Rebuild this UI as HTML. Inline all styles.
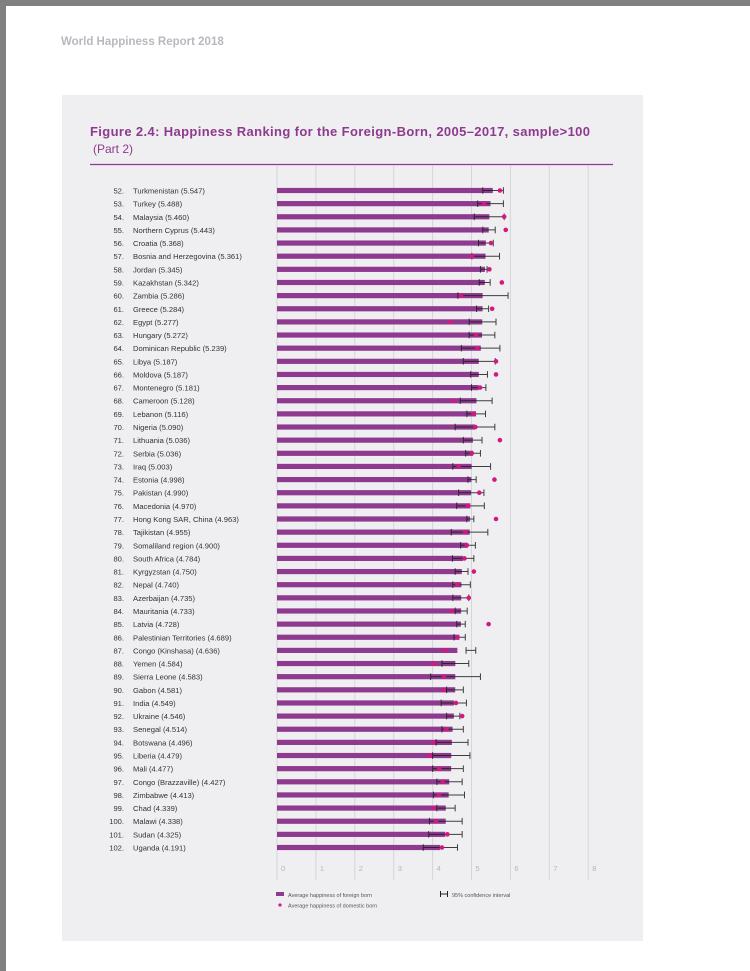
<!DOCTYPE html>
<html><head><meta charset="utf-8"><style>
body{margin:0;width:750px;height:971px;overflow:hidden;background:#fff;font-family:"Liberation Sans",sans-serif;}
svg{display:block}
</style></head><body>
<svg id="chart" width="750" height="971" viewBox="0 0 750 971" xmlns="http://www.w3.org/2000/svg" font-family="Liberation Sans, sans-serif">
<rect x="0" y="0" width="750" height="6" fill="#808080"/>
<rect x="0" y="0" width="6" height="971" fill="#808080"/>
<text x="61" y="45" font-size="11.5" font-weight="bold" fill="#b8b8be">World Happiness Report 2018</text>
<rect x="62" y="95" width="581" height="846" fill="#efeff2"/>
<text x="90" y="136" font-size="13" font-weight="bold" fill="#8e3a8e" textLength="500">Figure 2.4: Happiness Ranking for the Foreign-Born, 2005–2017, sample&gt;100</text>
<text x="93" y="153" font-size="12" fill="#8e3a8e">(Part 2)</text>
<line x1="90" y1="164.5" x2="613" y2="164.5" stroke="#8e3a8e" stroke-width="1.2"/>
<g id="grid"></g><g id="labels"></g><g id="marks"></g><g id="ticks"></g>
<g>
<rect x="276" y="892" width="8" height="4" fill="#8e3a8e"/>
<text x="288" y="897" font-size="5.5" fill="#555">Average happiness of foreign born</text>
<circle cx="280" cy="905" r="1.6" fill="#d4187f"/>
<text x="288" y="907.5" font-size="5.5" fill="#555">Average happiness of domestic born</text>
<path d="M440.5 891v6M440.5 894h7M447.5 891v6" stroke="#222" stroke-width="1" fill="none"/>
<text x="452" y="897" font-size="5.5" fill="#555">95% confidence interval</text>
</g>
</svg>
<script>
const countries=["Turkmenistan","Turkey","Malaysia","Northern Cyprus","Croatia","Bosnia and Herzegovina","Jordan","Kazakhstan","Zambia","Greece","Egypt","Hungary","Dominican Republic","Libya","Moldova","Montenegro","Cameroon","Lebanon","Nigeria","Lithuania","Serbia","Iraq","Estonia","Pakistan","Macedonia","Hong Kong SAR, China","Tajikistan","Somaliland region","South Africa","Kyrgyzstan","Nepal","Azerbaijan","Mauritania","Latvia","Palestinian Territories","Congo (Kinshasa)","Yemen","Sierra Leone","Gabon","India","Ukraine","Senegal","Botswana","Liberia","Mali","Congo (Brazzaville)","Zimbabwe","Chad","Malawi","Sudan","Uganda"];
const foreignBorn=[5.547,5.488,5.460,5.443,5.368,5.361,5.345,5.342,5.286,5.284,5.277,5.272,5.239,5.187,5.187,5.181,5.128,5.116,5.090,5.036,5.036,5.003,4.998,4.990,4.970,4.963,4.955,4.900,4.784,4.750,4.740,4.735,4.733,4.728,4.689,4.636,4.584,4.583,4.581,4.549,4.546,4.514,4.496,4.479,4.477,4.427,4.413,4.339,4.338,4.325,4.191];
const ciLow=[5.29,5.16,5.07,5.29,5.18,5.01,5.23,5.20,4.65,5.13,4.94,4.94,4.74,4.79,4.98,5.00,4.71,4.88,4.58,4.79,4.85,4.52,4.91,4.67,4.62,4.88,4.48,4.72,4.51,4.58,4.52,4.52,4.58,4.62,4.55,4.86,4.24,3.95,4.36,4.22,4.36,4.24,4.09,4.00,4.00,4.11,4.02,4.11,3.92,3.90,3.76];
const ciHigh=[5.82,5.82,5.84,5.61,5.56,5.72,5.40,5.48,5.94,5.44,5.63,5.60,5.73,5.61,5.41,5.37,5.53,5.36,5.60,5.27,5.23,5.49,5.12,5.32,5.33,5.06,5.42,5.10,5.06,4.91,4.97,4.93,4.89,4.84,4.84,5.11,4.93,5.23,4.79,4.87,4.70,4.79,4.91,4.96,4.79,4.76,4.82,4.58,4.76,4.76,4.64];
const domesticBorn=[5.73,5.32,5.84,5.88,5.50,5.01,5.46,5.78,4.73,5.53,4.45,5.12,5.15,5.63,5.63,5.22,4.53,5.05,5.10,5.73,5.01,4.67,5.59,5.20,4.91,5.63,4.84,4.88,4.82,5.06,4.64,4.93,4.50,5.44,4.64,4.33,4.02,4.29,4.28,4.60,4.76,4.35,4.02,3.92,4.17,4.26,4.16,4.02,4.09,4.38,4.24];
const tickValues=[0,1,2,3,4,5,6,7,8];
const startRank=52;
const NS="http://www.w3.org/2000/svg";
const x0=277,unit=38.9,y0=190.5,step=13.14;
function xs(v){return x0+v*unit;}
function ys(i){return y0+i*step;}
function mk(tag,attrs,parent){const e=document.createElementNS(NS,tag);for(const k in attrs)e.setAttribute(k,attrs[k]);parent.appendChild(e);return e;}
const grid=document.getElementById('grid'),labels=document.getElementById('labels'),marks=document.getElementById('marks'),ticks=document.getElementById('ticks');
tickValues.forEach(t=>{
  const l=mk('line',{x1:xs(t),x2:xs(t),y1:165,y2:880,stroke:'#d6d6da','stroke-width':1},grid);
  
  
  const tx=mk('text',{x:xs(t)+4,y:871,'font-size':7.5,fill:'#b5b5ba'},ticks);
  tx.textContent=t;
  
  
});
countries.forEach((c,i)=>{
  const y=ys(i);
  const n=mk('text',{x:124,y:y+3,'font-size':7.6,fill:'#333','text-anchor':'end'},labels);
  n.textContent=(startRank+i)+'.';
  
  
  const t=mk('text',{x:133,y:y+3,'font-size':7.6,fill:'#333'},labels);
  t.textContent=c+' ('+foreignBorn[i].toFixed(3)+')';
  
  
  const b=mk('rect',{x:x0,y:y-2.6,width:xs(foreignBorn[i])-x0,height:5.2,fill:'#8e3a8e'},marks);
  
  
  const lo=xs(ciLow[i]),hi=xs(ciHigh[i]);
  const ci=mk('path',{d:'M'+lo+' '+(y-3.3)+'v6.6M'+lo+' '+y+'H'+hi+'M'+hi+' '+(y-3.3)+'v6.6',stroke:'#1e1e1e','stroke-width':1,fill:'none',opacity:0.85},marks);
  
  
  const d=mk('circle',{cx:xs(domesticBorn[i]),cy:y,r:2.3,fill:'#d4187f'},marks);
  
  
});
</script>
</body></html>
